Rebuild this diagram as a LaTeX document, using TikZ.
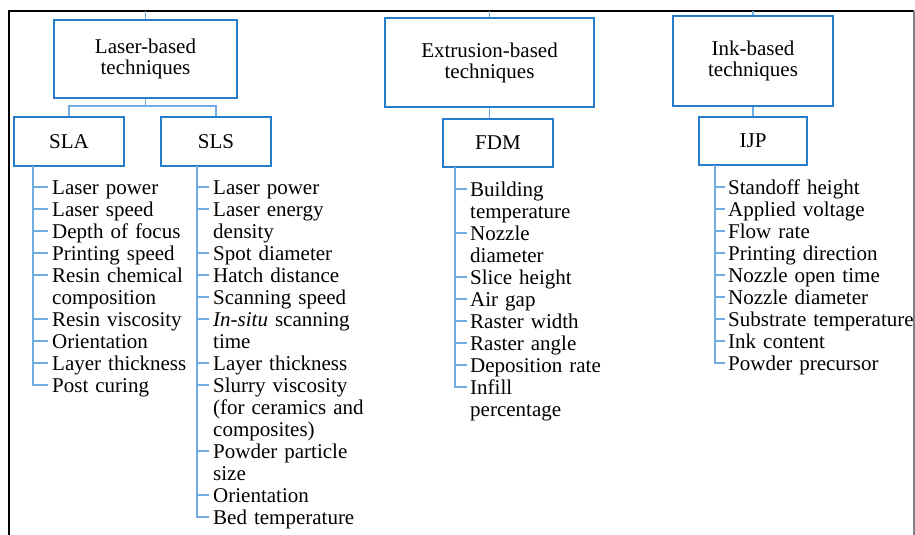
\documentclass[tikz,border=0pt]{standalone}
\usepackage{fontspec}
\setmainfont{Liberation Serif}
\definecolor{boxblue}{RGB}{40,124,204}
\definecolor{linkblue}{RGB}{112,172,228}
\tikzset{
  tech/.style={draw=boxblue,line width=2.4pt,align=center,font=\fontsize{21}{21}\selectfont},
  link/.style={draw=linkblue,line width=1.6pt},
  item/.style={anchor=base west,align=left,text width=186pt,inner sep=0pt,font=\fontsize{21}{22}\selectfont},
}

\begin{document}
\begin{tikzpicture}[x=1pt,y=-1pt]
  \useasboundingbox (0,0) rectangle (915,535);
  % frame
  \draw[black,line width=2pt] (9,535) -- (9,11) -- (914,11);
  \draw[gray,line width=1.2pt] (914,11) -- (914,535);
  \coordinate (top) at (0,11);
  % technique boxes
  \node[tech,minimum width=183pt,minimum height=78pt] (laser) at (145.5,59)  {Laser-based\\techniques};
  \node[tech,minimum width=209pt,minimum height=89pt] (extr)  at (489.5,62.5) {Extrusion-based\\techniques};
  \node[tech,minimum width=160pt,minimum height=90pt] (ink)   at (753,61)    {Ink-based\\techniques};
  \node[tech,minimum width=110pt,minimum height=49pt] (SLA)   at (69,141.5)  {SLA};
  \node[tech,minimum width=110pt,minimum height=49pt] (SLS)   at (216,141.5) {SLS};
  \node[tech,minimum width=110pt,minimum height=48pt] (FDM)   at (498,143)   {FDM};
  \node[tech,minimum width=108pt,minimum height=48pt] (IJP)   at (753,141)   {IJP};
  % links between boxes
  \draw[link] (laser.north) -- (laser.north |- top);
  \draw[link] (extr.north) -- (extr.north |- top);
  \draw[link] (ink.north) -- (ink.north |- top);
  \coordinate (split) at ([yshift=-7pt]laser.south);
  \draw[link] (laser.south) -- (split);
  \draw[link] (SLA.north) |- (split) -| (SLS.north);
  \draw[link] (extr.south) -- (extr.south |- FDM.north);
  \draw[link] (ink.south) -- (IJP.north);
  % SLA parameters
  \node[item] (sla1) at (52,194) {Laser power};
  \node[item] (sla2) at (52,216) {Laser speed};
  \node[item] (sla3) at (52,238) {Depth of focus};
  \node[item] (sla4) at (52,260) {Printing speed};
  \node[item] (sla5) at (52,282) {Resin chemical\\composition};
  \node[item] (sla6) at (52,326) {Resin viscosity};
  \node[item] (sla7) at (52,348) {Orientation};
  \node[item] (sla8) at (52,370) {Layer thickness};
  \node[item] (sla9) at (52,392) {Post curing};
  % SLS parameters
  \node[item] (sls1)  at (213,194) {Laser power};
  \node[item] (sls2)  at (213,216) {Laser energy\\density};
  \node[item] (sls3)  at (213,260) {Spot diameter};
  \node[item] (sls4)  at (213,282) {Hatch distance};
  \node[item] (sls5)  at (213,304) {Scanning speed};
  \node[item] (sls6)  at (213,326) {\textit{In-situ} scanning\\time};
  \node[item] (sls7)  at (213,370) {Layer thickness};
  \node[item] (sls8)  at (213,392) {Slurry viscosity\\(for ceramics and\\composites)};
  \node[item] (sls9)  at (213,458) {Powder particle\\size};
  \node[item] (sls10) at (213,502) {Orientation};
  \node[item] (sls11) at (213,524) {Bed temperature};
  % FDM parameters
  \node[item] (fdm1) at (470,196) {Building\\temperature};
  \node[item] (fdm2) at (470,240) {Nozzle\\diameter};
  \node[item] (fdm3) at (470,284) {Slice height};
  \node[item] (fdm4) at (470,306) {Air gap};
  \node[item] (fdm5) at (470,328) {Raster width};
  \node[item] (fdm6) at (470,350) {Raster angle};
  \node[item] (fdm7) at (470,372) {Deposition rate};
  \node[item] (fdm8) at (470,394) {Infill\\percentage};
  % IJP parameters
  \node[item] (ijp1) at (728,194) {Standoff height};
  \node[item] (ijp2) at (728,216) {Applied voltage};
  \node[item] (ijp3) at (728,238) {Flow rate};
  \node[item] (ijp4) at (728,260) {Printing direction};
  \node[item] (ijp5) at (728,282) {Nozzle open time};
  \node[item] (ijp6) at (728,304) {Nozzle diameter};
  \node[item] (ijp7) at (728,326) {Substrate temperature};
  \node[item] (ijp8) at (728,348) {Ink content};
  \node[item] (ijp9) at (728,370) {Powder precursor};
  % trunks and ticks
  \coordinate (slaT) at (33,166);
  \coordinate (slsT) at (197,166);
  \coordinate (fdmT) at (455,167);
  \coordinate (ijpT) at (715,165);
  \draw[link] (slaT) |- ([shift={(-4pt,7pt)}]sla9.base west);
  \draw[link] (slsT) |- ([shift={(-4pt,7pt)}]sls11.base west);
  \draw[link] (fdmT) |- ([shift={(-3pt,7pt)}]fdm8.base west);
  \draw[link] (ijpT) |- ([shift={(-3pt,7pt)}]ijp9.base west);
  \foreach \n in {sla1,sla2,sla3,sla4,sla5,sla6,sla7,sla8}
    \draw[link] ([shift={(-4pt,7pt)}]\n.base west) -- ([yshift=7pt]\n.base west -| slaT);
  \foreach \n in {sls1,sls2,sls3,sls4,sls5,sls6,sls7,sls8,sls9,sls10}
    \draw[link] ([shift={(-4pt,7pt)}]\n.base west) -- ([yshift=7pt]\n.base west -| slsT);
  \foreach \n in {fdm1,fdm2,fdm3,fdm4,fdm5,fdm6,fdm7}
    \draw[link] ([shift={(-3pt,7pt)}]\n.base west) -- ([yshift=7pt]\n.base west -| fdmT);
  \foreach \n in {ijp1,ijp2,ijp3,ijp4,ijp5,ijp6,ijp7,ijp8}
    \draw[link] ([shift={(-3pt,7pt)}]\n.base west) -- ([yshift=7pt]\n.base west -| ijpT);
\end{tikzpicture}
\end{document}
